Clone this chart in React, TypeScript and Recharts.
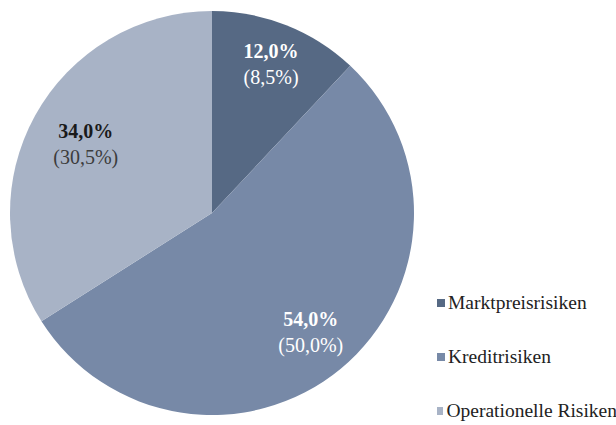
import { PieChart, Pie, Cell, Legend } from "recharts"

const categories = ["Marktpreisrisiken", "Kreditrisiken", "Operationelle Risiken"]
const shares = [12.0, 54.0, 34.0]
const priorYear = [8.5, 50.0, 30.5]
const colors = ["#566984", "#7789a7", "#a8b3c6"]
const labelColors = [
  { main: "#ffffff", sub: "#ffffff" },
  { main: "#ffffff", sub: "#ffffff" },
  { main: "#1a1a1a", sub: "#3c3c3c" },
]
// how far out each label sits, as a share of the radius
const labelRadius = [0.794, 0.767, 0.713]

const FONT = "Liberation Serif, DejaVu Serif, Times New Roman, serif"

const data = categories.map((name, i) => ({
  name,
  value: shares[i],
  prior: priorYear[i],
}))

const fmt = (v: number) => v.toFixed(1).replace(".", ",") + "%"

const RADIAN = Math.PI / 180

function SliceLabel(props: any) {
  const { cx, cy, midAngle, outerRadius, index } = props
  const r = outerRadius * labelRadius[index]
  const x = cx + r * Math.cos(-midAngle * RADIAN)
  const y = cy + r * Math.sin(-midAngle * RADIAN)
  const c = labelColors[index]
  return (
    <text x={x} y={y} textAnchor="middle" fontFamily={FONT} fontSize={20}>
      <tspan x={x} dy={-6} fontWeight="bold" fill={c.main}>
        {fmt(shares[index])}
      </tspan>
      <tspan x={x} dy={26} fill={c.sub}>
        ({fmt(priorYear[index])})
      </tspan>
    </text>
  )
}

function LegendList({ payload }: any) {
  const items = [...(payload || [])].sort(
    (a: any, b: any) => categories.indexOf(a.value) - categories.indexOf(b.value)
  )
  return (
    <div style={{ fontFamily: FONT, fontSize: 19.5, color: "#222" }}>
      {items.map((entry: any) => (
        <div
          key={entry.value}
          style={{ display: "flex", alignItems: "center", height: 54, whiteSpace: "nowrap" }}
        >
          <span
            style={{
              display: "inline-block",
              width: 8,
              height: 8,
              background: entry.color,
              marginRight: 3,
            }}
          />
          {entry.value}
        </div>
      ))}
    </div>
  )
}

export default function App() {
  return (
    <div style={{ position: "absolute", left: 0, top: 0, background: "#fff" }}>
      <PieChart width={616} height={425} margin={{ top: 0, right: 0, bottom: 0, left: 0 }}>
        <Pie
          data={data}
          dataKey="value"
          nameKey="name"
          cx={212}
          cy={213}
          outerRadius={202}
          startAngle={90}
          endAngle={-270}
          stroke="none"
          label={SliceLabel}
          labelLine={false}
          isAnimationActive={false}
        >
          {data.map((d, i) => (
            <Cell key={d.name} fill={colors[i]} />
          ))}
        </Pie>
        <Legend
          content={LegendList}
          wrapperStyle={{ left: 437, top: 276, width: 180 }}
        />
      </PieChart>
    </div>
  )
}
